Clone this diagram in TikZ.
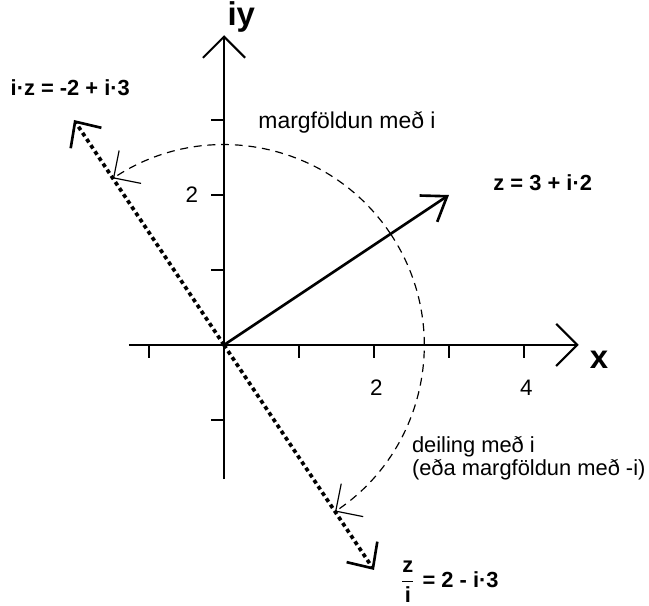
\documentclass[tikz,border=0pt]{standalone}
\usepackage{amsmath}
\usepackage{fontspec}
\setmainfont{Liberation Sans}
\usetikzlibrary{arrows.meta}

\begin{document}
\begin{tikzpicture}[
  axis/.style={line width=0.8pt,-{Straight Barb[length=8pt,width=16pt]}},
  vec/.style={line width=1pt,-{Straight Barb[length=8.5pt,width=12pt]}},
  rot/.style={line width=1.4pt,dash pattern=on 1.5pt off 1.3pt,
    -{Straight Barb[length=7.5pt,width=14pt,line width=1pt]}},
  turn/.style={line width=0.45pt,dash pattern=on 3pt off 2.2pt,
    -{Straight Barb[length=7.5pt,width=15pt]}},
  tick/.style={line width=0.6pt},
  lab/.style={font=\fontsize{8.7}{8.9}\selectfont,align=left,inner sep=0pt},
  num/.style={font=\fontsize{8.5}{10}\selectfont,inner sep=0pt},
  eq/.style={font=\fontsize{8.3}{10}\selectfont\bfseries,inner sep=0pt},
  axlab/.style={font=\fontsize{12.5}{14}\selectfont\bfseries,inner sep=0pt}
]
\useasboundingbox (-2.987,-3.48) rectangle (5.667,4.6);
\coordinate (o) at (0,0);
\coordinate (xstart) at (-1.27,0);
\coordinate (xend) at (4.73,0);
\coordinate (ystart) at (0,-1.79);
\coordinate (yend) at (0,4.13);
\coordinate (z) at (3,2);
\coordinate (iz) at (-2,3);
\coordinate (zi) at (2,-3);
\coordinate (arcz) at (33.69:2.67);
\draw[axis] (xstart) -- (xend);
\draw[axis] (ystart) -- (yend);
\foreach \t in {-1,1,2,3,4} \draw[tick] (\t,0) -- (\t,-0.17);
\foreach \t in {-1,1,2,3} \draw[tick] (0,\t) -- (-0.17,\t);
\node[num] (x2) at (2.03,-0.57) {2};
\node[num] (x4) at (4.03,-0.57) {4};
\node[num] (y2) at (-0.43,2.0) {2};
\node[axlab] (xlab) at (5.0,-0.2) {x};
\node[axlab] (ylab) at (0.23,4.37) {iy};
\draw[vec] (o) -- (z);
\draw[rot] (o) -- (iz);
\draw[rot] (o) -- (zi);
\draw[turn] (arcz) arc[start angle=33.69,end angle=123.69,radius=2.67];
\draw[turn] (arcz) arc[start angle=33.69,end angle=-56.31,radius=2.67];
\node[eq] (zlab) at (4.25,2.16) {z = 3 + i·2};
\node[eq] (izlab) at (-2.05,3.43) {i·z = -2 + i·3};
\node[eq,anchor=west] (zilab) at (2.33,-3.16) {$\dfrac{\text{z}}{\text{i}}$ = 2 - i·3};
\node[lab] (mult) at (1.64,2.97) {margföldun með i};
\node[lab,anchor=west,font=\fontsize{8.3}{8.9}\selectfont] (div) at (2.5,-1.513) {deiling með i\\(eða margföldun með -i)};
\end{tikzpicture}
\end{document}
